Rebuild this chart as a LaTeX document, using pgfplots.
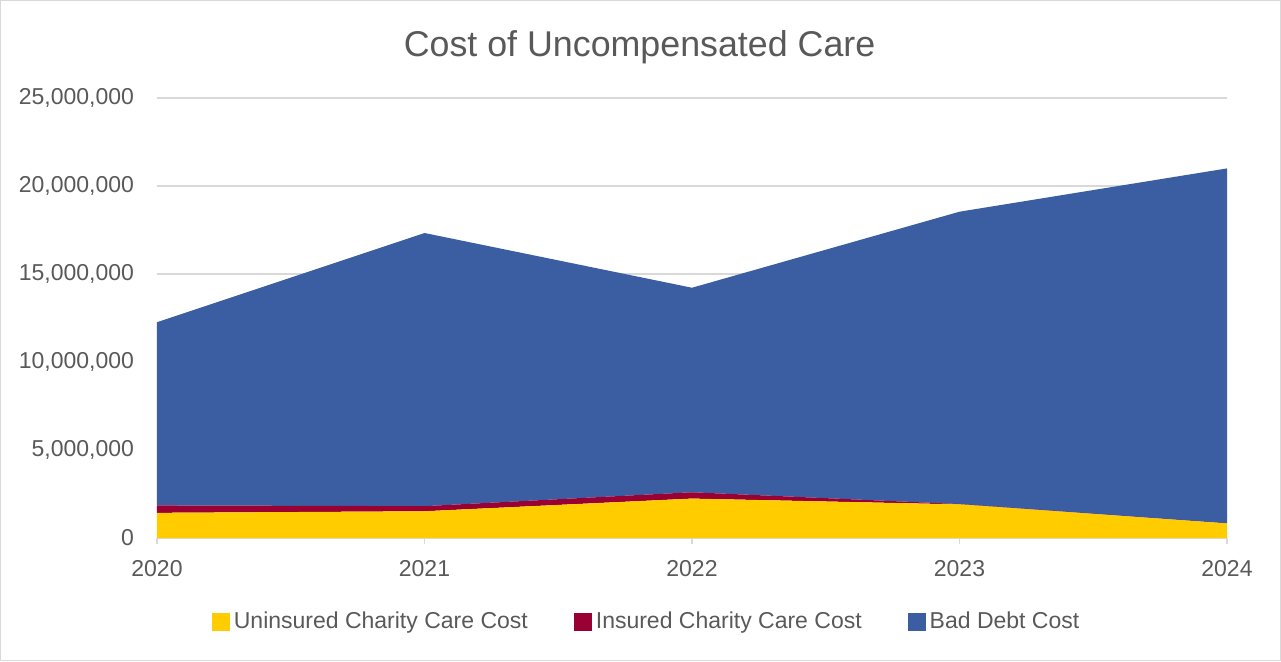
\documentclass[border=0pt]{standalone}
\usepackage{pgfplots}
\pgfplotsset{compat=1.18}
\usepackage{fontspec}
\setmainfont{Liberation Sans}
\definecolor{cYellow}{HTML}{FFCC00}
\definecolor{cRed}{HTML}{990033}
\definecolor{cBlue}{HTML}{3B5EA3}
\definecolor{cText}{HTML}{595959}
\definecolor{cGrid}{HTML}{D9D9D9}
\begin{document}
\begin{tikzpicture}
\draw[cGrid, line width=0.6pt] (0.3pt,0.3pt) rectangle (640.2pt,330.2pt);
\begin{axis}[
  at={(78.5pt,61.5pt)}, anchor=south west,
  scale only axis, width=535pt, height=220pt,
  xmin=2020, xmax=2024, ymin=0, ymax=25000000,
  xtick={2020,2021,2022,2023,2024},
  ytick distance=5000000,
  xticklabel style={/pgf/number format/set thousands separator={}, font=\fontsize{11.5}{13}\selectfont, text=cText, yshift=-4.5pt},
  yticklabel style={/pgf/number format/fixed, /pgf/number format/1000 sep={,}, font=\fontsize{11.5}{13}\selectfont, text=cText, xshift=-5pt},
  /pgf/number format/assume math mode=true,
  scaled y ticks=false,
  axis x line*=bottom, axis y line*=left,
  y axis line style={draw=none},
  x axis line style={cGrid, line width=0.8pt, -},
  ytick style={draw=none},
  xtick style={cGrid, line width=0.6pt},
  tick align=outside, major tick length=3pt,
  ymajorgrids, grid style={cGrid, line width=0.6pt},
  stack plots=y,
  legend columns=3,
  legend style={at={(axis description cs:0.4585,-0.191)}, anchor=center, draw=none, fill=none,
    font=\fontsize{11.5}{13}\selectfont, text=cText,
    /tikz/every even column/.append style={column sep=21pt}},
  legend image code/.code={\fill[#1] (0pt,-4.5pt) rectangle (9pt,4.5pt);},
  title={Cost of Uncompensated Care},
  title style={font=\fontsize{17.9}{20}\selectfont, text=cText, at={(axis description cs:0.451,1.0)}, anchor=south, yshift=7.5pt},
  axis on top=false,
]
\addplot[fill=cYellow, draw=none] coordinates {(2020,1430000) (2021,1520000) (2022,2240000) (2023,1910000) (2024,830000)} \closedcycle;
\addlegendentry{Uninsured Charity Care Cost}
\addplot[fill=cRed, draw=none] coordinates {(2020,420000) (2021,290000) (2022,360000) (2023,20000) (2024,0)} \closedcycle;
\addlegendentry{Insured Charity Care Cost}
\addplot[fill=cBlue, draw=none] coordinates {(2020,10410000) (2021,15520000) (2022,11620000) (2023,16610000) (2024,20170000)} \closedcycle;
\addlegendentry{Bad Debt Cost}
\end{axis}
\end{tikzpicture}
\end{document}
